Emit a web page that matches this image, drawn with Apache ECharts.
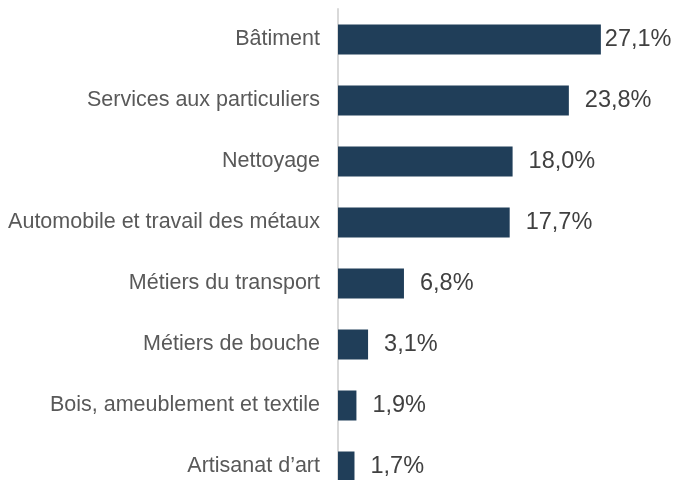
<!DOCTYPE html>
<html>
<head>
<meta charset="utf-8">
<script src="https://cdn.jsdelivr.net/npm/echarts@6/dist/echarts.min.js"></script>
<style>
  html, body { margin: 0; padding: 0; background: #fff; overflow: hidden; }
  #chart { width: 677px; height: 500px; }
</style>
</head>
<body>
<div id="chart"></div>
<script>
// categories top to bottom
const categories = ['Bâtiment', 'Services aux particuliers', 'Nettoyage', 'Automobile et travail des métaux',
  'Métiers du transport', 'Métiers de bouche', 'Bois, ameublement et textile', 'Artisanat d’art'];
const shares = [27.1, 23.8, 18.0, 17.7, 6.8, 3.1, 1.9, 1.7];

// the top label sits closer to its bar in the original
const barData = shares.map((v, i) => i === 0 ? { value: v, label: { distance: 4 } } : v);

let myChart = echarts.init(document.getElementById('chart'));
myChart.setOption({
  animation: false,
  grid: {
    left: 338,
    top: 9,
    width: 291,
    height: 488
  },
  xAxis: {
    type: 'value',
    min: 0,
    max: 30,
    show: false
  },
  yAxis: {
    type: 'category',
    inverse: true,
    data: categories,
    axisLine: { show: true, lineStyle: { color: '#d9d9d9', width: 2 } },
    axisTick: { show: false },
    axisLabel: {
      color: '#595959',
      fontFamily: 'Liberation Sans, Arial, sans-serif',
      fontSize: 21.5,
      margin: 18
    }
  },
  series: [{
    type: 'bar',
    data: barData,
    barWidth: 30,
    itemStyle: { color: '#203e59' },
    label: {
      show: true,
      position: 'right',
      distance: 16,
      color: '#404040',
      fontFamily: 'Liberation Sans, Arial, sans-serif',
      fontSize: 23.5,
      formatter: p => p.value.toFixed(1).replace('.', ',') + '%'
    }
  }]
});
</script>
</body>
</html>
